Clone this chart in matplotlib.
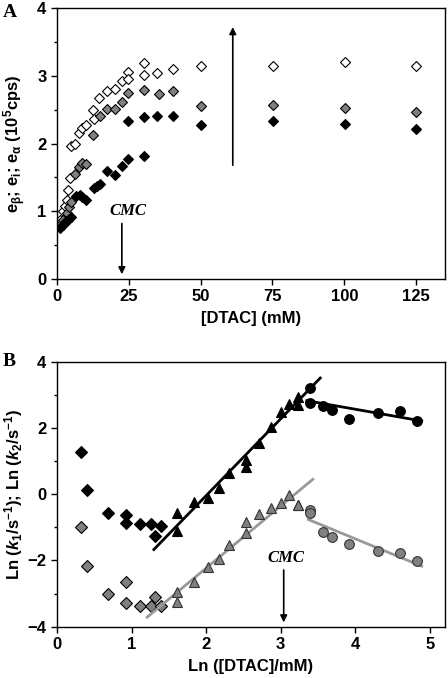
import numpy as np
import matplotlib
matplotlib.use("Agg")
import matplotlib.pyplot as plt
from matplotlib.ticker import MultipleLocator

plt.rcParams['font.family'] = ['Liberation Sans', 'DejaVu Sans']
plt.rcParams['font.weight'] = 'bold'
plt.rcParams['mathtext.fontset'] = 'custom'
plt.rcParams['mathtext.rm'] = 'Liberation Sans:bold'
plt.rcParams['mathtext.it'] = 'Liberation Sans:bold:italic'
plt.rcParams['mathtext.bf'] = 'Liberation Sans:bold'

# ---- panel A: amplitudes vs [DTAC] (mM)
a_open_x = [1.0, 2.2, 2.8, 3.4, 4.0, 4.5, 4.9, 6.3, 7.7, 8.8, 10.1, 12.7, 13.0,
            14.8, 17.6, 20.1, 22.6, 24.9, 24.9, 30.2, 30.2, 34.8, 40.3, 50.2,
            75.2, 100.2, 125.0]
a_open_y = [0.87, 1.00, 1.08, 1.17, 1.31, 1.49, 1.96, 2.00, 2.16, 2.23, 2.28,
            2.50, 2.37, 2.67, 2.77, 2.80, 2.92, 3.05, 2.95, 3.19, 3.01, 3.04,
            3.10, 3.14, 3.14, 3.20, 3.15]
a_gray_x = [1.0, 2.2, 3.4, 4.2, 4.9, 6.3, 7.8, 8.8, 10.1, 12.7, 15.0, 17.3,
            20.1, 22.8, 24.9, 30.2, 35.4, 40.3, 50.2, 75.2, 100.2, 125.0]
a_gray_y = [0.80, 0.87, 0.97, 1.06, 1.14, 1.55, 1.65, 1.71, 1.70, 2.13, 2.40,
            2.51, 2.51, 2.61, 2.75, 2.79, 2.73, 2.77, 2.56, 2.57, 2.53, 2.46]
a_black_x = [1.0, 2.2, 3.0, 4.0, 4.8, 6.6, 8.0, 8.8, 10.1, 13.0, 13.8, 15.0,
             17.6, 20.1, 22.6, 24.9, 30.2, 24.9, 30.2, 34.8, 40.3, 50.2, 75.2,
             100.2, 125.0]
a_black_y = [0.76, 0.80, 0.85, 0.87, 0.92, 1.22, 1.24, 1.21, 1.17, 1.34, 1.37,
             1.41, 1.59, 1.53, 1.67, 1.77, 1.82, 2.33, 2.39, 2.40, 2.41, 2.27,
             2.33, 2.29, 2.21]

# ---- panel B: ln k vs ln [DTAC]
b_k1_dia_x = [0.32, 0.41, 0.69, 0.93, 0.93, 1.12, 1.26, 1.32, 1.40]
b_k1_dia_y = [1.26, 0.13, -0.58, -0.63, -0.88, -0.90, -0.90, -1.26, -0.96]
b_k2_dia_y = [-0.98, -2.16, -3.02, -2.66, -3.29, -3.37, -3.37, -3.11, -3.37]
b_tri_x = [1.61, 1.61, 1.84, 2.02, 2.17, 2.31, 2.53, 2.53, 2.71, 2.87, 3.01,
           3.11, 3.23, 3.23]
b_k1_tri_y = [-0.56, -1.10, -0.23, -0.11, 0.17, 0.63, 1.03, 0.83, 1.55, 2.03,
              2.49, 2.72, 2.94, 2.69]
b_k2_tri_y = [-2.94, -3.27, -2.64, -2.21, -1.96, -1.55, -1.18, -0.83, -0.61,
              -0.41, -0.26, -0.03, -0.33, -0.33]
b_circ_x = [3.39, 3.39, 3.56, 3.69, 3.91, 4.31, 4.60, 4.82]
b_k1_circ_y = [3.19, 2.76, 2.67, 2.54, 2.27, 2.46, 2.51, 2.22]
b_k2_circ_y = [-0.48, -0.58, -1.15, -1.28, -1.50, -1.71, -1.77, -2.02]

# x spans of the fitted lines
fit_k1_rise = [1.30, 3.53]
fit_k1_fall = [3.35, 4.89]
fit_k2_rise = [1.21, 3.43]
fit_k2_fall = [3.37, 4.89]

GRAY = '#808080'
LGRAY = '#999999'

fig = plt.figure(figsize=(4.48, 6.78), dpi=100)
axA = fig.add_axes([0.127, 0.5885, 0.866, 0.3995])
axB = fig.add_axes([0.127, 0.0757, 0.866, 0.391])

ms = 5.5
axA.plot(a_open_x, a_open_y, 'D', ms=ms, mfc='white', mec='black', mew=0.8)
axA.plot(a_gray_x, a_gray_y, 'D', ms=ms, mfc=GRAY, mec='black', mew=0.8)
axA.plot(a_black_x, a_black_y, 'D', ms=ms, mfc='black', mec='black', mew=0.8)

axA.set_xlim(0, 135)
axA.set_ylim(0, 4)
axA.xaxis.set_major_locator(MultipleLocator(25))
axA.yaxis.set_major_locator(MultipleLocator(1))
axA.yaxis.set_minor_locator(MultipleLocator(0.5))
axA.set_xlabel('[DTAC] (mM)', fontsize=12, fontweight='bold', labelpad=5)
axA.set_ylabel(r'e$_\mathrm{\beta}$; e$_\mathrm{i}$; e$_\mathrm{\alpha}$ (10$^5$cps)',
               fontsize=12, fontweight='bold', va='center')
axA.yaxis.set_label_coords(-0.108, 0.5)

axA.annotate('', xy=(61.2, 3.72), xytext=(61.2, 1.68),
             arrowprops=dict(arrowstyle='-|>', color='black', lw=1.2,
                             mutation_scale=10, shrinkA=0, shrinkB=0))
axA.annotate('', xy=(22.6, 0.07), xytext=(22.6, 0.82),
             arrowprops=dict(arrowstyle='-|>', color='black', lw=1.2,
                             mutation_scale=10, shrinkA=0, shrinkB=0))
axA.text(24.7, 1.0, 'CMC', fontsize=12, family='Liberation Serif',
         style='italic', fontweight='bold', ha='center', va='center')

# panel B markers
axB.plot(b_k1_dia_x, b_k1_dia_y, 'D', ms=6, mfc='black', mec='black', mew=0.8)
axB.plot(b_k1_dia_x, b_k2_dia_y, 'D', ms=6, mfc=GRAY, mec='black', mew=0.8)

for lo, hi, xs, ys, col in [
        (fit_k1_rise[0], fit_k1_rise[1], b_tri_x, b_k1_tri_y, 'black'),
        (fit_k1_fall[0], fit_k1_fall[1], b_circ_x, b_k1_circ_y, 'black'),
        (fit_k2_rise[0], fit_k2_rise[1], b_tri_x, b_k2_tri_y, LGRAY),
        (fit_k2_fall[0], fit_k2_fall[1], b_circ_x, b_k2_circ_y, LGRAY)]:
    p = np.polyfit(xs, ys, 1)
    xx = np.array([lo, hi])
    axB.plot(xx, np.polyval(p, xx), '-', color=col, lw=2, zorder=2)

axB.plot(b_tri_x, b_k1_tri_y, '^', ms=7.5, mfc='black', mec='black', mew=0.8, zorder=3)
axB.plot(b_circ_x, b_k1_circ_y, 'o', ms=7, mfc='black', mec='black', mew=0.8, zorder=3)
axB.plot(b_tri_x, b_k2_tri_y, '^', ms=7.5, mfc=GRAY, mec='#333333', mew=0.8, zorder=3)
axB.plot(b_circ_x, b_k2_circ_y, 'o', ms=7, mfc=GRAY, mec='#333333', mew=0.8, zorder=3)

axB.set_xlim(0, 5.2)
axB.set_ylim(-4, 4)
axB.xaxis.set_major_locator(MultipleLocator(1))
axB.yaxis.set_major_locator(MultipleLocator(2))
axB.yaxis.set_minor_locator(MultipleLocator(1))
axB.set_xlabel('Ln ([DTAC]/mM)', fontsize=12, fontweight='bold', labelpad=5)
axB.set_ylabel(r'Ln ($k_1$/s$^{-1}$); Ln ($k_2$/s$^{-1}$)', fontsize=12,
               fontweight='bold', va='center')
axB.yaxis.set_label_coords(-0.113, 0.5)

axB.annotate('', xy=(3.04, -3.87), xytext=(3.04, -2.29),
             arrowprops=dict(arrowstyle='-|>', color='black', lw=1.2,
                             mutation_scale=10, shrinkA=0, shrinkB=0))
axB.text(3.07, -1.94, 'CMC', fontsize=12, family='Liberation Serif',
         style='italic', fontweight='bold', ha='center', va='center')

for ax in (axA, axB):
    ax.tick_params(which='major', direction='out', length=4, width=1,
                   labelsize=12)
    ax.tick_params(which='minor', direction='out', length=2.5, width=1)
    for lab in ax.get_xticklabels() + ax.get_yticklabels():
        lab.set_fontweight('bold')
    for s in ax.spines.values():
        s.set_linewidth(1)

fig.text(0.007, 0.982, 'A', fontsize=14, family='Liberation Serif',
         fontweight='bold', va='center')
fig.text(0.007, 0.467, 'B', fontsize=14, family='Liberation Serif',
         fontweight='bold', va='center')

fig.savefig('out.png', dpi=100)
